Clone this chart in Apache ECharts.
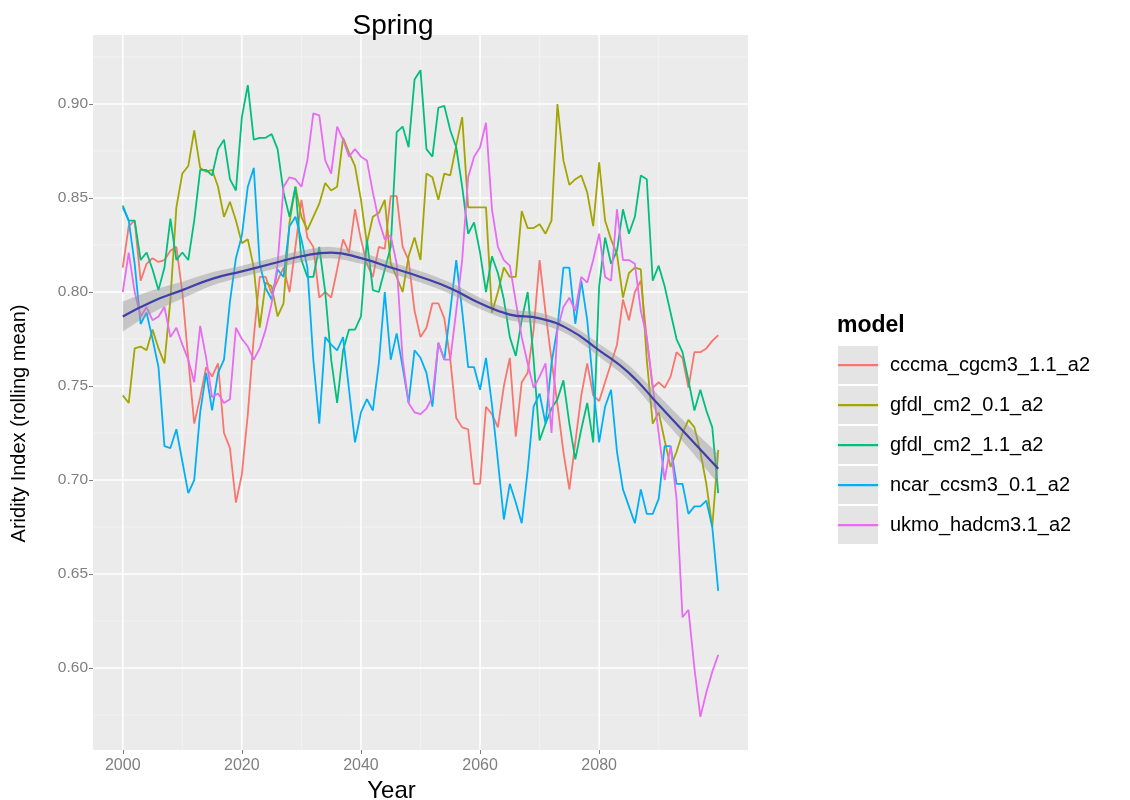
<!DOCTYPE html>
<html>
<head>
<meta charset="utf-8">
<script src="https://cdn.jsdelivr.net/npm/echarts@6/dist/echarts.min.js"></script>
<style>
  html, body { margin: 0; padding: 0; background: #ffffff; }
  #chart { width: 1130px; height: 800px; }
</style>
</head>
<body>
<div id="chart"></div>
<script>
// Spring aridity index, 10-year rolling mean, one row per model, years 2000..2100
const startYear = 2000;
const endYear = 2100;
const years = [];
for (let y = startYear; y <= endYear; y++) years.push(y);

const models = ['cccma_cgcm3_1.1_a2', 'gfdl_cm2_0.1_a2', 'gfdl_cm2_1.1_a2', 'ncar_ccsm3_0.1_a2', 'ukmo_hadcm3.1_a2'];
const modelColors = ['#F8766D', '#A3A500', '#00BF7D', '#00B0F6', '#E76BF3'];

const cccma = [
  0.813, 0.835, 0.838, 0.806, 0.815, 0.818, 0.816, 0.817, 0.822, 0.824,
  0.800, 0.764, 0.730, 0.744, 0.760, 0.755, 0.762, 0.725, 0.717, 0.688,
  0.703, 0.735, 0.776, 0.808, 0.808, 0.799, 0.806, 0.813, 0.800, 0.824,
  0.849, 0.829, 0.824, 0.797, 0.800, 0.797, 0.812, 0.828, 0.821, 0.844,
  0.828, 0.815, 0.808, 0.824, 0.823, 0.851, 0.851, 0.824, 0.817, 0.790,
  0.776, 0.781, 0.794, 0.794, 0.786, 0.764, 0.733, 0.728, 0.727, 0.698,
  0.698, 0.739, 0.735, 0.728, 0.750, 0.765, 0.723, 0.752, 0.757, 0.780,
  0.817, 0.789, 0.764, 0.740, 0.715, 0.695, 0.720, 0.745, 0.762, 0.745,
  0.742, 0.752, 0.762, 0.772, 0.796, 0.785, 0.800, 0.806, 0.775, 0.749,
  0.752, 0.749, 0.755, 0.768, 0.765, 0.749, 0.768, 0.768, 0.770, 0.774,
  0.777
];
const gfdl01 = [
  0.745, 0.741, 0.770, 0.771, 0.769, 0.780, 0.770, 0.762, 0.796, 0.845,
  0.863, 0.867, 0.886, 0.866, 0.864, 0.865, 0.856, 0.840, 0.848, 0.838,
  0.826, 0.828, 0.813, 0.781, 0.805, 0.803, 0.787, 0.794, 0.837, 0.856,
  0.840, 0.833, 0.840, 0.847, 0.858, 0.854, 0.856, 0.882, 0.874, 0.867,
  0.849, 0.826, 0.840, 0.842, 0.849, 0.815, 0.808, 0.800, 0.819, 0.829,
  0.817, 0.863, 0.861, 0.849, 0.863, 0.862, 0.878, 0.893, 0.845, 0.845,
  0.845, 0.845, 0.789, 0.800, 0.813, 0.808, 0.808, 0.843, 0.834, 0.834,
  0.836, 0.831, 0.838, 0.900, 0.870, 0.857, 0.860, 0.862, 0.853, 0.835,
  0.869, 0.838, 0.828, 0.820, 0.797, 0.810, 0.813, 0.812, 0.764, 0.730,
  0.736, 0.721, 0.707, 0.715, 0.725, 0.732, 0.728, 0.715, 0.698, 0.675,
  0.716
];
const gfdl11 = [
  0.846, 0.838, 0.838, 0.817, 0.821, 0.812, 0.801, 0.813, 0.839, 0.817,
  0.821, 0.817, 0.838, 0.865, 0.865, 0.862, 0.876, 0.881, 0.860, 0.854,
  0.893, 0.910, 0.881, 0.882, 0.882, 0.884, 0.876, 0.853, 0.840, 0.856,
  0.817, 0.808, 0.808, 0.824, 0.800, 0.764, 0.741, 0.769, 0.780, 0.780,
  0.787, 0.828, 0.801, 0.800, 0.812, 0.824, 0.885, 0.888, 0.877, 0.913,
  0.918, 0.876, 0.872, 0.898, 0.899, 0.886, 0.877, 0.856, 0.831, 0.837,
  0.821, 0.800, 0.819, 0.810, 0.796, 0.776, 0.766, 0.785, 0.800, 0.764,
  0.721, 0.730, 0.738, 0.743, 0.753, 0.730, 0.711, 0.727, 0.741, 0.720,
  0.803, 0.829, 0.815, 0.822, 0.844, 0.831, 0.840, 0.862, 0.860, 0.806,
  0.814, 0.803, 0.789, 0.775, 0.768, 0.753, 0.737, 0.748, 0.737, 0.728,
  0.693
];
const ncar = [
  0.845, 0.838, 0.815, 0.783, 0.789, 0.775, 0.760, 0.718, 0.717, 0.727,
  0.710, 0.693, 0.700, 0.736, 0.757, 0.737, 0.757, 0.764, 0.795, 0.818,
  0.830, 0.856, 0.866, 0.815, 0.802, 0.796, 0.812, 0.808, 0.835, 0.840,
  0.828, 0.813, 0.764, 0.730, 0.776, 0.772, 0.769, 0.776, 0.748, 0.720,
  0.736, 0.743, 0.737, 0.762, 0.800, 0.764, 0.778, 0.760, 0.741, 0.769,
  0.765, 0.757, 0.739, 0.773, 0.764, 0.790, 0.817, 0.790, 0.760, 0.760,
  0.748, 0.765, 0.740, 0.710, 0.679, 0.698, 0.688, 0.677, 0.705, 0.739,
  0.746, 0.730, 0.762, 0.781, 0.813, 0.813, 0.783, 0.806, 0.785, 0.750,
  0.720, 0.739, 0.748, 0.715, 0.695, 0.686, 0.677, 0.695, 0.682, 0.682,
  0.690, 0.718, 0.718, 0.698, 0.698, 0.682, 0.686, 0.686, 0.689, 0.675,
  0.641
];
const ukmo = [
  0.800, 0.821, 0.800, 0.787, 0.792, 0.785, 0.787, 0.792, 0.776, 0.781,
  0.772, 0.764, 0.752, 0.782, 0.765, 0.744, 0.746, 0.741, 0.743, 0.781,
  0.775, 0.771, 0.764, 0.770, 0.780, 0.794, 0.815, 0.856, 0.861, 0.860,
  0.856, 0.870, 0.895, 0.894, 0.870, 0.863, 0.888, 0.881, 0.872, 0.876,
  0.872, 0.870, 0.853, 0.838, 0.828, 0.830, 0.815, 0.764, 0.741, 0.736,
  0.735, 0.738, 0.744, 0.773, 0.764, 0.764, 0.790, 0.817, 0.861, 0.872,
  0.877, 0.890, 0.844, 0.824, 0.817, 0.814, 0.795, 0.776, 0.762, 0.749,
  0.755, 0.762, 0.725, 0.780, 0.792, 0.797, 0.790, 0.808, 0.805, 0.817,
  0.831, 0.808, 0.806, 0.844, 0.817, 0.817, 0.815, 0.790, 0.776, 0.750,
  0.725, 0.700, 0.718, 0.690, 0.627, 0.631, 0.600, 0.574, 0.587, 0.598,
  0.607
];
const modelValues = [cccma, gfdl01, gfdl11, ncar, ukmo];

// loess fit across all models, with its standard-error half width
const smoothYears = [2000, 2005, 2010, 2015, 2020, 2025, 2030, 2035, 2040, 2045, 2050,
                     2055, 2060, 2065, 2070, 2075, 2080, 2085, 2090, 2095, 2100];
const smoothFit = [0.787, 0.795, 0.801, 0.807, 0.811, 0.815, 0.819, 0.821, 0.818, 0.813, 0.808,
                   0.802, 0.794, 0.788, 0.786, 0.780, 0.769, 0.757, 0.740, 0.723, 0.706];
const smoothSe = [0.008, 0.006, 0.0045, 0.0035, 0.003, 0.003, 0.003, 0.003, 0.003, 0.003, 0.003,
                  0.003, 0.003, 0.003, 0.003, 0.003, 0.0035, 0.004, 0.005, 0.006, 0.008];

// axis breaks
const xLabelBreaks = [2000, 2020, 2040, 2060, 2080];
const xMinorBreaks = [2010, 2030, 2050, 2070, 2090];
const yLabelBreaks = [0.60, 0.65, 0.70, 0.75, 0.80, 0.85, 0.90];
const yMinorBreaks = [0.575, 0.625, 0.675, 0.725, 0.775, 0.825, 0.875, 0.925];

const X_MIN = 1995, X_MAX = 2105;
const Y_MIN = 0.5564, Y_MAX = 0.9367;
const FONT = '"Liberation Sans", Arial, Helvetica, sans-serif';

// gridline rows: [orientation (0 vertical, 1 horizontal), value, major flag]
const gridRows = [];
xMinorBreaks.forEach(v => gridRows.push([0, v, 0]));
yMinorBreaks.forEach(v => gridRows.push([1, v, 0]));
xLabelBreaks.forEach(v => gridRows.push([0, v, 1]));
yLabelBreaks.forEach(v => gridRows.push([1, v, 1]));

function renderGridLine(params, api) {
  const cs = params.coordSys;
  const dir = api.value(0);
  const v = api.value(1);
  const major = api.value(2) === 1;
  let shape;
  if (dir === 0) {
    const x = api.coord([v, Y_MIN])[0];
    shape = { x1: x, y1: cs.y, x2: x, y2: cs.y + cs.height };
  } else {
    const y = api.coord([X_MIN, v])[1];
    shape = { x1: cs.x, y1: y, x2: cs.x + cs.width, y2: y };
  }
  return {
    type: 'line',
    shape: shape,
    style: { stroke: major ? '#FFFFFF' : '#F4F4F4', lineWidth: major ? 1.5 : 0.8 }
  };
}

// open Catmull-Rom curve through pixel points, as bezier path commands
function curveThrough(pts, startCmd) {
  let d = startCmd + pts[0][0] + ',' + pts[0][1];
  for (let i = 0; i < pts.length - 1; i++) {
    const p0 = pts[i - 1] || pts[i];
    const p1 = pts[i];
    const p2 = pts[i + 1];
    const p3 = pts[i + 2] || p2;
    const c1x = p1[0] + (p2[0] - p0[0]) / 6, c1y = p1[1] + (p2[1] - p0[1]) / 6;
    const c2x = p2[0] - (p3[0] - p1[0]) / 6, c2y = p2[1] - (p3[1] - p1[1]) / 6;
    d += ' C' + c1x + ',' + c1y + ' ' + c2x + ',' + c2y + ' ' + p2[0] + ',' + p2[1];
  }
  return d;
}

// confidence band around the loess fit
function renderBand(params, api) {
  const upper = smoothYears.map((yr, k) => api.coord([yr, smoothFit[k] + smoothSe[k]]));
  const lower = smoothYears.map((yr, k) => api.coord([yr, smoothFit[k] - smoothSe[k]])).reverse();
  const d = curveThrough(upper, 'M') + ' ' + curveThrough(lower, 'L') + ' Z';
  return {
    type: 'path',
    shape: { pathData: d },
    style: { fill: 'rgba(150,150,150,0.45)', stroke: null }
  };
}

const series = [];
series.push({
  name: 'grid-lines',
  type: 'custom',
  renderItem: renderGridLine,
  data: gridRows,
  silent: true,
  z: 1,
  animation: false
});

models.forEach((name, i) => {
  series.push({
    name: name,
    type: 'line',
    data: years.map((yr, k) => [yr, modelValues[i][k]]),
    symbol: 'none',
    lineStyle: { color: modelColors[i], width: 1.8 },
    itemStyle: { color: modelColors[i] },
    z: 2,
    animation: false
  });
});

series.push({
  name: 'se-band',
  type: 'custom',
  renderItem: renderBand,
  data: [[smoothYears[0], smoothFit[0]]],
  silent: true,
  z: 3,
  animation: false
});
series.push({
  name: 'fit',
  type: 'line',
  smooth: true,
  symbol: 'none',
  data: smoothYears.map((yr, k) => [yr, smoothFit[k]]),
  lineStyle: { color: '#3F3FA8', width: 2.2 },
  silent: true,
  z: 4,
  animation: false
});

const legendCommon = {
  orient: 'vertical',
  left: 833,
  top: 341,
  itemWidth: 40,
  itemHeight: 38,
  itemGap: 2,
  selectedMode: false
};
const legendText = { fontFamily: FONT, fontSize: 20, padding: [0, 0, 0, 7] };

const option = {
  backgroundColor: '#ffffff',
  animation: false,
  title: [
    {
      text: 'Spring',
      left: 388,
      top: 7,
      textAlign: 'center',
      textStyle: { fontFamily: FONT, fontSize: 28, fontWeight: 'normal', color: '#000000' }
    },
    {
      text: 'model',
      left: 832,
      top: 309,
      textStyle: { fontFamily: FONT, fontSize: 23, fontWeight: 'bold', color: '#000000' }
    }
  ],
  grid: {
    left: 93,
    right: 382,
    top: 35,
    bottom: 50,
    outerBoundsMode: 'none',
    containLabel: false,
    show: true,
    backgroundColor: '#EBEBEB',
    borderWidth: 0
  },
  xAxis: {
    type: 'value',
    min: X_MIN,
    max: X_MAX,
    name: 'Year',
    nameLocation: 'middle',
    nameGap: 25,
    nameTextStyle: { fontFamily: FONT, fontSize: 24, color: '#000000', padding: [0, 58, 0, 0] },
    axisLine: { show: false },
    axisTick: { show: true, customValues: xLabelBreaks, length: 4, lineStyle: { color: '#7F7F7F' } },
    axisLabel: {
      customValues: xLabelBreaks,
      margin: 8,
      fontFamily: FONT,
      fontSize: 16,
      color: '#7F7F7F',
      formatter: v => String(v)
    },
    splitLine: { show: false }
  },
  yAxis: {
    type: 'value',
    min: Y_MIN,
    max: Y_MAX,
    name: 'Aridity Index (rolling mean)',
    nameLocation: 'middle',
    nameRotate: 90,
    nameGap: 64,
    nameTextStyle: { fontFamily: FONT, fontSize: 20, color: '#000000', padding: [0, 62, 0, 0] },
    axisLine: { show: false },
    axisTick: { show: true, customValues: yLabelBreaks, length: 4, lineStyle: { color: '#7F7F7F' } },
    axisLabel: {
      customValues: yLabelBreaks,
      margin: 5,
      fontFamily: FONT,
      fontSize: 15.5,
      color: '#7F7F7F',
      formatter: v => v.toFixed(2)
    },
    splitLine: { show: false }
  },
  legend: [
    Object.assign({}, legendCommon, {
      icon: 'rect',
      z: 3,
      data: models.map(n => ({ name: n, itemStyle: { color: '#E4E4E4', borderWidth: 0 } })),
      textStyle: Object.assign({}, legendText, { color: 'rgba(0,0,0,0)' })
    }),
    Object.assign({}, legendCommon, {
      // key line: a thin bar across the middle of a 40x38 key
      icon: 'path://M0,0M0,18L40,18L40,20.2L0,20.2ZM40,38',
      symbolKeepAspect: false,
      z: 4,
      data: models.map(n => ({ name: n, itemStyle: { borderWidth: 0 } })),
      textStyle: Object.assign({}, legendText, { color: '#000000' })
    })
  ],
  series: series
};

const chart = echarts.init(document.getElementById('chart'), null, { renderer: 'canvas' });
chart.setOption(option);
</script>
</body>
</html>
